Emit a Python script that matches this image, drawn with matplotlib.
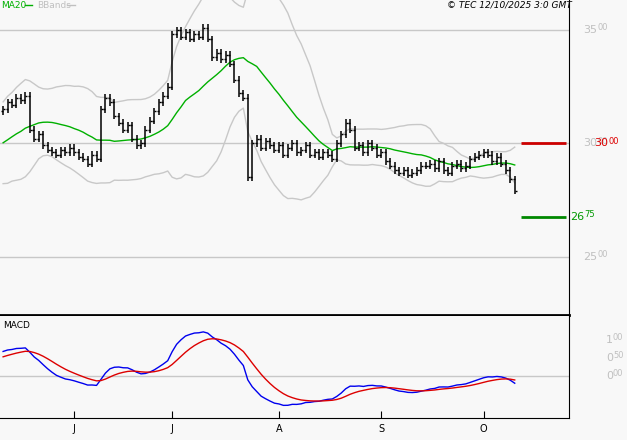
import numpy as np
import pandas as pd
from matplotlib import pyplot as plt
from matplotlib.lines import Line2D

# warm-up closes (before the visible window), used only for the indicators
warmup = [28.5, 28.8, 28.4, 28.1, 28.4, 28.8, 29.2, 29.0, 29.4, 29.7, 29.3, 29.0, 28.7,
          28.9, 29.3, 29.6, 29.9, 30.3, 30.7, 30.5, 30.9, 31.2, 30.8, 31.1, 31.4]
closes = [31.5, 31.8, 31.7, 32.0, 31.9, 32.1,
          30.6, 30.2, 30.4,
          29.9, 29.7, 29.6, 29.5, 29.7, 29.6, 29.8,
          29.6, 29.4, 29.3, 29.1, 29.5, 29.3,
          31.5, 32.0, 31.8,
          31.2, 30.9, 30.6, 30.8, 30.2,
          29.9, 30.0, 30.6,
          31.0, 31.4, 31.8, 32.1, 32.5,
          34.8, 35.0, 34.7, 34.9, 34.6, 34.8, 34.7, 35.1, 34.6,
          33.8, 34.0, 33.7, 33.9, 33.5,
          32.8, 32.2, 32.0,
          28.5,
          30.0, 30.2, 29.8, 30.1, 29.9,
          29.7, 29.9, 29.5, 29.8, 30.0, 29.6, 29.7, 29.9, 29.5, 29.6, 29.4, 29.6, 29.5, 29.3,
          30.0, 30.4, 30.9, 30.6,
          29.8, 29.9, 29.6, 30.0, 29.8, 29.5, 29.6,
          29.2, 29.0, 28.8, 28.7, 28.8, 28.6, 28.7, 28.8, 29.0,
          29.0, 29.1, 28.9, 29.2, 28.8, 28.7, 29.0,
          29.1, 28.9, 29.0, 29.3, 29.4, 29.5,
          29.6, 29.5, 29.2, 29.4, 29.1,
          28.8, 28.4, 27.9]
month_pos = [16, 38, 62, 85, 108]
month_lab = ['J', 'J', 'A', 'S', 'O']
resist = 30.00
support = 26.75

allc = pd.Series(warmup + closes)
ma = allc.rolling(20).mean()
sd = allc.rolling(20).std(ddof=0)
up = ma + 2 * sd
lo = ma - 2 * sd
macd = allc.ewm(span=12, adjust=False).mean() - allc.ewm(span=26, adjust=False).mean()
sig = macd.ewm(span=9, adjust=False).mean()
n0 = len(warmup)
x = np.arange(len(closes))
prev = allc.shift(1).values[n0:]

bg = '#f8f8f8'
grey = '#c8c8c8'
W, H = 627, 440
fig = plt.figure(figsize=(6.27, 4.4), dpi=100, facecolor=bg)
ax = fig.add_axes([0, 1 - 315 / H, 569 / W, 315 / H], facecolor=bg)
ax2 = fig.add_axes([0, 1 - 418 / H, 569 / W, 102 / H], facecolor=bg)

xl = (-0.7, 127.2)
for a in (ax, ax2):
    a.set_xlim(*xl)
    for s in ('left', 'top'):
        a.spines[s].set_visible(False)
    a.spines['right'].set_color('black')
    a.tick_params(left=False, labelleft=False, right=False, labelright=False)

# main panel
ax.set_ylim(22.42, 36.32)
for v in (35, 30, 25):
    ax.axhline(v, color=grey, lw=1, zorder=0)
ax.spines['bottom'].set_linewidth(2)
ax.tick_params(bottom=False, labelbottom=False)
ax.plot(x, up.values[n0:], color='#c8c8c8', lw=1)
ax.plot(x, lo.values[n0:], color='#c8c8c8', lw=1)
ax.plot(x, ma.values[n0:], color='#00b000', lw=1)
for i, c in enumerate(closes):
    o = prev[i]
    h = max(o, c) + 0.15
    l = min(o, c) - 0.15
    ax.vlines(i, l, h, color='black', lw=1.1)
    ax.hlines(o, i - 0.45, i, color='black', lw=1)
    ax.hlines(c, i, i + 0.45, color='black', lw=1)
ax.hlines(resist, 116.5, 126.5, color='#cc0000', lw=2)
ax.hlines(support, 116.5, 126.5, color='#008800', lw=2)

def price_label(a, xf, v, color, big=8, small=6):
    s = '%.2f' % v
    ip, dp = s.split('.')
    t = a.text(xf, v, ip, transform=a.get_yaxis_transform(), color=color,
               fontsize=big, va='center', ha='left', clip_on=False)
    a.annotate(dp, xy=(1, 0.5), xycoords=t, xytext=(0, 1.5), textcoords='offset points',
               color=color, fontsize=small, va='center', ha='left')

for v in (35, 30, 25):
    price_label(ax, 1.025, v, '#c0c0c0')
price_label(ax, 1.045, resist, '#dd0000')
price_label(ax, 1.002, support, '#009900')

# legend line at the top
ly = 1 - 5 / H
fig.text(1 / W, ly, 'MA20', color='#00b000', fontsize=6.5, va='center')
fig.lines.append(Line2D([25 / W, 32 / W], [ly, ly], color='#00b000', lw=1, transform=fig.transFigure))
fig.text(37 / W, ly, 'BBands', color='#c0c0c0', fontsize=6.5, va='center')
fig.lines.append(Line2D([67 / W, 75 / W], [ly, ly], color='#c0c0c0', lw=1, transform=fig.transFigure))
fig.text(572 / W, ly, '\u00a9 TEC 12/10/2025 3:0 GMT', fontsize=6.5,
         style='italic', ha='right', va='center')

# MACD panel
ax2.set_ylim(-1.17, 1.67)
ax2.axhline(0, color=grey, lw=1, zorder=0)
ax2.plot(x, macd.values[n0:], color='#0000ee', lw=1)
ax2.plot(x, sig.values[n0:], color='#dd0000', lw=1)
ax2.set_xticks(month_pos)
ax2.set_xticklabels(month_lab, fontsize=7)
ax2.tick_params(axis='x', length=5, direction='in', pad=4)
for v in (1.0, 0.5, 0.0):
    price_label(ax2, 1.065, v, '#c0c0c0', big=8, small=6)
ax2.text(0.005, 0.95, 'MACD', transform=ax2.transAxes, fontsize=6.5, va='top')

fig.savefig('out.png', dpi=100, facecolor=bg)
